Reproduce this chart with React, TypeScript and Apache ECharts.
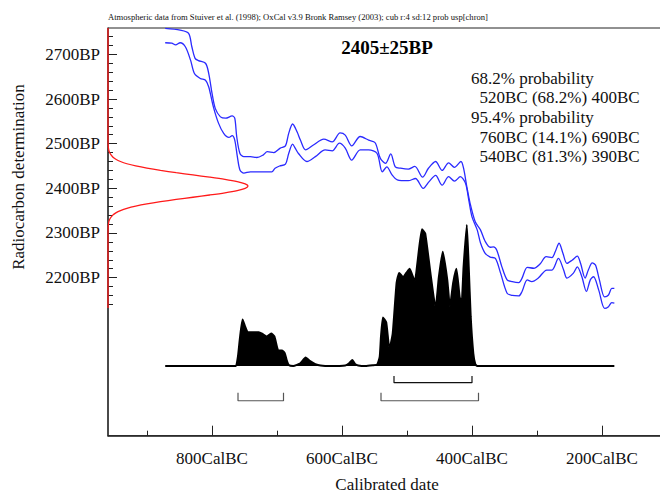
import React, { useEffect, useRef } from "react";
import * as echarts from "echarts";

// Calendar axis (years BC) and radiocarbon axis (years BP) ticks
const majorYearsBC = [800, 600, 400, 200];
const minorYearsBC = [900, 700, 500, 300, 100];
const majorBP = [2200, 2300, 2400, 2500, 2600, 2700];
const minorBP = [2140, 2160, 2180, 2220, 2240, 2260, 2280, 2320, 2340, 2360, 2380, 2420, 2440, 2460, 2480,
  2520, 2540, 2560, 2580, 2620, 2640, 2660, 2680, 2720, 2740, 2760];

// Calibration curve envelope: [year BC, BP]
const upperCurve: [number, number][] = [
  [872, 2758], [849, 2754], [836, 2747], [831, 2717], [826, 2691], [821, 2686], [810, 2680], [805, 2657],
  [800, 2613], [795, 2579], [787, 2560], [779, 2557], [769, 2562], [765, 2557], [762, 2516], [757, 2478],
  [751, 2471], [741, 2471], [731, 2469], [721, 2475], [715, 2482], [705, 2480], [695, 2490], [687, 2495],
  [682, 2523], [676, 2544], [669, 2526], [664, 2508], [656, 2486], [644, 2497], [628, 2510], [615, 2504],
  [603, 2524], [595, 2519], [585, 2495], [572, 2516], [559, 2508], [549, 2502], [541, 2467], [533, 2456],
  [525, 2477], [518, 2448], [510, 2445], [498, 2443], [488, 2449], [476, 2425], [467, 2445], [456, 2460],
  [446, 2440], [436, 2457], [427, 2447], [417, 2460], [413, 2445], [408, 2404], [403, 2367], [395, 2325],
  [387, 2307], [380, 2282], [372, 2268], [367, 2269], [362, 2262], [354, 2224], [346, 2195], [338, 2191],
  [328, 2189], [323, 2199], [315, 2223], [305, 2221], [295, 2231], [286, 2247], [277, 2245], [272, 2258],
  [266, 2277], [260, 2254], [254, 2232], [246, 2239], [238, 2248], [233, 2232], [226, 2199], [221, 2217],
  [215, 2233], [210, 2228], [204, 2195], [196, 2157], [190, 2161], [185, 2176], [181, 2176],
];
const lowerCurve: [number, number][] = [
  [872, 2726], [862, 2725], [856, 2721], [849, 2726], [841, 2717], [833, 2687], [827, 2657], [818, 2646],
  [810, 2642], [805, 2627], [798, 2583], [790, 2546], [782, 2523], [774, 2514], [769, 2518], [765, 2508],
  [761, 2471], [757, 2441], [751, 2434], [741, 2437], [726, 2437], [708, 2437], [703, 2445], [696, 2450],
  [687, 2454], [682, 2478], [676, 2499], [672, 2490], [667, 2478], [654, 2460], [641, 2471], [626, 2486],
  [615, 2484], [604, 2501], [595, 2490], [585, 2463], [572, 2486], [559, 2486], [546, 2478], [538, 2437],
  [531, 2448], [523, 2430], [515, 2419], [498, 2417], [487, 2422], [475, 2400], [466, 2415], [456, 2429],
  [446, 2407], [436, 2426], [427, 2416], [418, 2426], [410, 2411], [405, 2374], [400, 2336], [392, 2307],
  [387, 2278], [380, 2255], [372, 2246], [364, 2243], [356, 2210], [346, 2165], [338, 2160], [328, 2159],
  [323, 2169], [315, 2195], [308, 2191], [298, 2199], [285, 2217], [277, 2217], [267, 2243], [259, 2217],
  [254, 2199], [244, 2210], [238, 2224], [231, 2202], [224, 2169], [218, 2195], [213, 2202], [205, 2172],
  [196, 2131], [190, 2135], [185, 2144], [181, 2143],
];

// Calibrated probability distribution: [year BC, relative probability (peak = 100)]
const calibrated: [number, number][] = [
  [872, 0], [766, 0], [763, 0], [760, 7], [757, 20], [753, 33], [749, 28], [745, 24], [741, 24], [735, 24],
  [728, 24], [723, 23], [716, 21], [709, 23], [704, 21], [698, 11], [692, 11], [688, 9], [685, 4], [682, 0.7],
  [675, 0], [664, 2], [656, 6], [649, 3.5], [641, 1.4], [633, 0.4], [618, 0], [595, 0.4], [589, 2], [584, 4.3],
  [580, 1.4], [575, 0.4], [564, 0], [553, 0.5], [546, 1], [542, 6.4], [540, 21], [537, 34.5], [532, 31],
  [527, 12], [522, 23], [516, 59], [512, 66], [506, 63], [501, 66], [496, 69], [488, 60], [484, 73], [477, 97],
  [472, 94], [464, 66], [456, 41], [451, 63], [445, 81], [438, 61], [434, 42], [429, 59], [424, 69], [419, 49],
  [416, 44], [413, 70], [408, 100], [405, 70], [402, 35], [398, 9], [395, 1.4], [392, 0], [181, 0],
];

// Radiocarbon measurement 2405±25 BP: [BP, relative density]
const measurement: [number, number][] = [
  [2132, 0], [2300, 0], [2320, 0.003], [2330, 0.011], [2340, 0.034], [2345, 0.056], [2350, 0.089],
  [2355, 0.135], [2360, 0.198], [2365, 0.278], [2370, 0.375], [2375, 0.487], [2380, 0.607], [2385, 0.726],
  [2390, 0.835], [2395, 0.923], [2400, 0.98], [2405, 1], [2410, 0.98], [2415, 0.923], [2420, 0.835],
  [2425, 0.726], [2430, 0.607], [2435, 0.487], [2440, 0.375], [2445, 0.278], [2450, 0.198], [2455, 0.135],
  [2460, 0.089], [2465, 0.056], [2470, 0.034], [2480, 0.011], [2490, 0.003], [2510, 0], [2759, 0],
];

// Ranges (years BC)
const ranges68: [number, number][] = [[520, 400]];
const ranges95: [number, number][] = [[760, 690], [540, 390]];

const titleText =
  "Atmospheric data from Stuiver et al. (1998); OxCal v3.9 Bronk Ramsey (2003); cub r:4 sd:12 prob usp[chron]";
const dateText = "2405±25BP";
const probLines = [
  "68.2% probability",
  "  520BC (68.2%) 400BC",
  "95.4% probability",
  "  760BC (14.1%) 690BC",
  "  540BC (81.3%) 390BC",
];

const SERIF = '"Liberation Serif", "Times New Roman", serif';

export default function App() {
  const ref = useRef<HTMLDivElement>(null);
  useEffect(() => {
    if (!ref.current) return;
    const chart = echarts.init(ref.current, undefined, { renderer: "svg" });

    const bracket = (r: [number, number], level: number, tip: number) => [
      [-r[0], tip], [-r[0], level], [-r[1], level], [-r[1], tip],
    ];
    const bracketSeries: any[] = [];
    ranges68.forEach((r) =>
      bracketSeries.push({
        type: "line", xAxisIndex: 0, yAxisIndex: 2, data: bracket(r, -11.8, -7),
        showSymbol: false, lineStyle: { color: "#111", width: 1.2 }, silent: true,
      })
    );
    ranges95.forEach((r) =>
      bracketSeries.push({
        type: "line", xAxisIndex: 0, yAxisIndex: 2, data: bracket(r, -24.6, -18.9),
        showSymbol: false, lineStyle: { color: "#555", width: 1.2 }, silent: true,
      })
    );

    const option: any = {
      animation: false,
      grid: {
        left: 108, top: 28, width: 562.25, height: 407.7, show: true,
        borderColor: "#222", borderWidth: 1, containLabel: false, outerBoundsMode: "none",
      },
      xAxis: [
        {
          type: "value", min: -960, max: -95, position: "bottom",
          axisLine: { show: true, onZero: false, lineStyle: { color: "#222", width: 1.5 } },
          axisTick: { show: true, inside: true, length: 10, customValues: majorYearsBC.map((v) => -v), lineStyle: { color: "#222" } },
          axisLabel: {
            show: true, customValues: majorYearsBC.map((v) => -v), formatter: (v: number) => `${-v}CalBC`,
            fontFamily: SERIF, fontSize: 17, color: "#111", margin: 14,
          },
          splitLine: { show: false },
        },
        {
          type: "value", min: -960, max: -95, position: "bottom",
          axisLine: { show: false, onZero: false },
          axisTick: { show: true, inside: true, length: 5, customValues: minorYearsBC.map((v) => -v), lineStyle: { color: "#222" } },
          axisLabel: { show: false },
          splitLine: { show: false },
        },
        { type: "value", min: 0, max: 4.016, show: false, axisLine: { onZero: false }, splitLine: { show: false } },
      ],
      yAxis: [
        {
          type: "value", min: 1846, max: 2759, position: "left",
          axisLine: { show: true, onZero: false, lineStyle: { color: "#333", width: 1.5 } },
          axisTick: { show: true, inside: true, length: 9, customValues: majorBP, lineStyle: { color: "#222" } },
          axisLabel: {
            show: true, customValues: majorBP, formatter: (v: number) => `${v}BP`,
            fontFamily: SERIF, fontSize: 17, color: "#111", margin: 8,
          },
          splitLine: { show: false },
        },
        {
          type: "value", min: 1846, max: 2759, position: "left",
          axisLine: { show: false, onZero: false },
          axisTick: { show: true, inside: true, length: 5, customValues: minorBP, lineStyle: { color: "#222" } },
          axisLabel: { show: false },
          splitLine: { show: false },
        },
        { type: "value", min: -49.4, max: 239.7, show: false, axisLine: { onZero: false }, splitLine: { show: false } },
      ],
      series: [
        {
          type: "line", xAxisIndex: 0, yAxisIndex: 2, data: calibrated.map(([bc, p]) => [-bc, p]),
          showSymbol: false, smooth: 0.15,
          lineStyle: { color: "#000", width: 2 },
          areaStyle: { color: "#000", opacity: 1, origin: 0 },
          silent: true,
        },
        {
          type: "line", xAxisIndex: 0, yAxisIndex: 0, data: upperCurve.map(([bc, bp]) => [-bc, bp]),
          showSymbol: false, smooth: 0.3, lineStyle: { color: "#2a2aff", width: 1.3 }, silent: true,
        },
        {
          type: "line", xAxisIndex: 0, yAxisIndex: 0, data: lowerCurve.map(([bc, bp]) => [-bc, bp]),
          showSymbol: false, smooth: 0.3, lineStyle: { color: "#2a2aff", width: 1.3 }, silent: true,
        },
        {
          type: "line", xAxisIndex: 2, yAxisIndex: 0, data: measurement.map(([bp, d]) => [d, bp]),
          showSymbol: false, smooth: 0.3, lineStyle: { color: "#ff1a1a", width: 1.3 }, silent: true,
        },
        ...bracketSeries,
      ],
      graphic: [
        {
          type: "text", x: 108, y: 17,
          style: { text: titleText, font: `8.6px ${SERIF}`, fill: "#111", textVerticalAlign: "middle" },
        },
        {
          type: "text", x: 387, y: 47,
          style: { text: dateText, font: `bold 19px ${SERIF}`, fill: "#000", textAlign: "center", textVerticalAlign: "middle" },
        },
        ...probLines.map((t, i) => ({
          type: "text", x: 471, y: 78.3 + i * 19.6,
          style: { text: t, font: `17px ${SERIF}`, fill: "#111", textVerticalAlign: "middle" },
        })),
        {
          type: "text", x: 18, y: 177, rotation: Math.PI / 2,
          style: { text: "Radiocarbon determination", font: `17px ${SERIF}`, fill: "#111", textAlign: "center", textVerticalAlign: "middle" },
        },
        {
          type: "text", x: 387, y: 484,
          style: { text: "Calibrated date", font: `17px ${SERIF}`, fill: "#111", textAlign: "center", textVerticalAlign: "middle" },
        },
      ],
    };
    chart.setOption(option);
    return () => chart.dispose();
  }, []);
  return (
    <div
      ref={ref}
      style={{ position: "fixed", left: 0, top: 0, width: 660, height: 495, background: "#fff" }}
    />
  );
}
